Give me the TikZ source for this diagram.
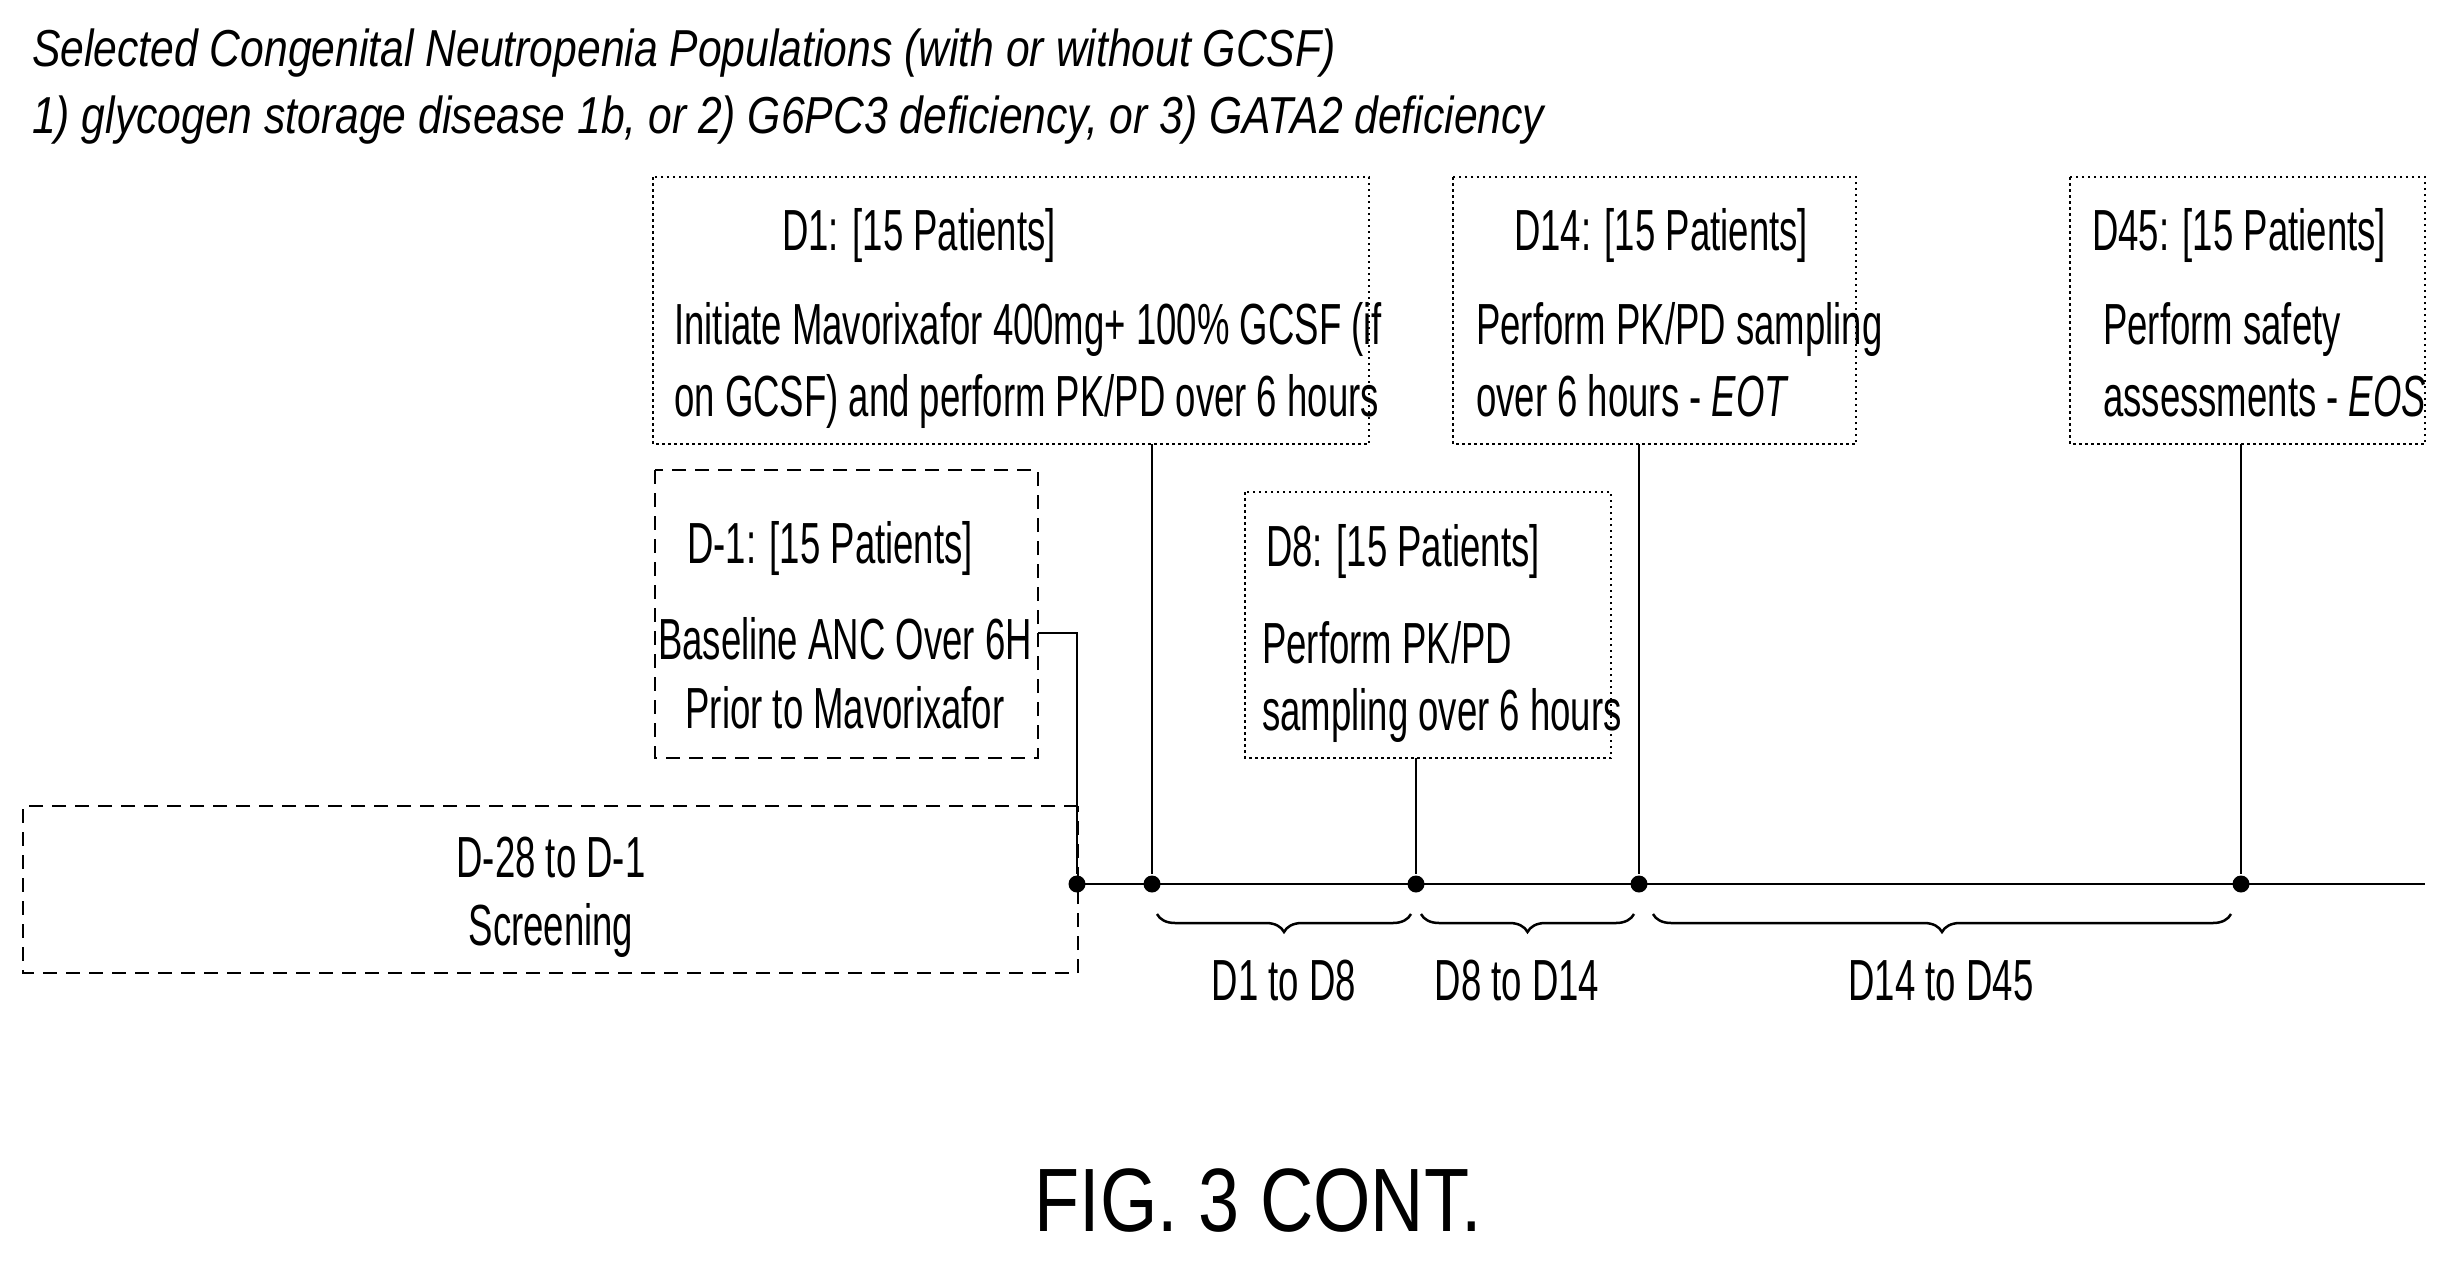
\documentclass[tikz,border=0pt]{standalone}
\usepackage{fontspec}
\setmainfont{Liberation Sans}[FakeStretch=0.63]
\newfontfamily\titlefont{Liberation Sans}[FakeStretch=0.82]
\usetikzlibrary{decorations.pathreplacing}
\begin{document}
\begin{tikzpicture}[x=1pt,y=-1pt,line width=2.5pt,
  dotbox/.style={draw,dash pattern=on 2.5pt off 3.5pt,line width=2.5pt},
  dashbox/.style={draw,dash pattern=on 14pt off 9pt,line width=2.5pt},
  txt/.style={inner sep=0pt,font=\fontsize{58}{72}\selectfont},
  dot/.style={circle,fill,inner sep=0pt,minimum size=17pt},
  br/.style={decorate,decoration={brace,mirror,amplitude=18pt},line width=2.5pt}]
\useasboundingbox (0,0) rectangle (2450,1261);
% title
\node[txt,anchor=base west,font=\fontsize{52}{60}\titlefont\itshape] (t1) at (31,66) {Selected Congenital Neutropenia Populations (with or without GCSF)};
\node[txt,anchor=base west,font=\fontsize{52}{60}\titlefont\itshape] (t2) at (31,133) {1) glycogen storage disease 1b, or 2) G6PC3 deficiency, or 3) GATA2 deficiency};
% boxes
\draw[dotbox] (653,177) rectangle (1369,444); \coordinate (d1b) at (1152,444);
\draw[dotbox] (1453,177) rectangle (1856,444); \coordinate (d14b) at (1639,444);
\draw[dotbox] (2070,177) rectangle (2425,444); \coordinate (d45b) at (2241,444);
\draw[dashbox] (655,470) rectangle (1038,758); \coordinate (dm1r) at (1038,633);
\draw[dotbox] (1245,492) rectangle (1611,758); \coordinate (d8b) at (1416,758);
\draw[dashbox] (1078,806) -- (23,806) -- (23,973) -- (1078,973) -- cycle;
% texts
\node[txt,anchor=base] (h1) at (919,250) {D1: [15 Patients]};
\node[txt,anchor=base west] (b1a) at (673,344) {Initiate Mavorixafor 400mg+ 100\% GCSF (if};
\node[txt,anchor=base west] (b1b) at (673,416) {on GCSF) and perform PK/PD over 6 hours};
\node[txt,anchor=base] (h14) at (1661,250) {D14: [15 Patients]};
\node[txt,anchor=base west] (b14a) at (1475,344) {Perform PK/PD sampling};
\node[txt,anchor=base west] (b14b) at (1475,416) {over 6 hours - \textit{EOT}};
\node[txt,anchor=base] (h45) at (2239,250) {D45: [15 Patients]};
\node[txt,anchor=base west] (b45a) at (2102,344) {Perform safety};
\node[txt,anchor=base west] (b45b) at (2102,416) {assessments - \textit{EOS}};
\node[txt,anchor=base] (hm1) at (830,563) {D-1: [15 Patients]};
\node[txt,anchor=base] (bm1a) at (845,659) {Baseline ANC Over 6H};
\node[txt,anchor=base] (bm1b) at (845,728) {Prior to Mavorixafor};
\node[txt,anchor=base] (h8) at (1403,566) {D8: [15 Patients]};
\node[txt,anchor=base west] (b8a) at (1261,663) {Perform PK/PD};
\node[txt,anchor=base west] (b8b) at (1261,730) {sampling over 6 hours};
\node[txt,anchor=base] (s1) at (551,877) {D-28 to D-1};
\node[txt,anchor=base] (s2) at (551,945) {Screening};
% timeline
\coordinate (tl0) at (1077,884); \coordinate (tl1) at (2425,884);
\draw (tl0) -- (tl1);
\node[dot] (p0) at (1077,884) {};
\node[dot] (p1) at (1152,884) {};
\node[dot] (p8) at (1416,884) {};
\node[dot] (p14) at (1639,884) {};
\node[dot] (p45) at (2241,884) {};
\draw (dm1r) -| (p0);
\draw (d1b) -- (p1);
\draw (d8b) -- (p8);
\draw (d14b) -- (p14);
\draw (d45b) -- (p45);
\draw[br] (1157,914) -- (1411,914);
\draw[br] (1421,914) -- (1634,914);
\draw[br] (1653,914) -- (2231,914);
\node[txt,anchor=base] (l1) at (1284,1000) {D1 to D8};
\node[txt,anchor=base] (l2) at (1517,1000) {D8 to D14};
\node[txt,anchor=base] (l3) at (1941,1000) {D14 to D45};
\node[txt,anchor=base,font=\fontsize{90}{100}\titlefont] (fig) at (1258,1231) {FIG. 3 CONT.};
\end{tikzpicture}
\end{document}
